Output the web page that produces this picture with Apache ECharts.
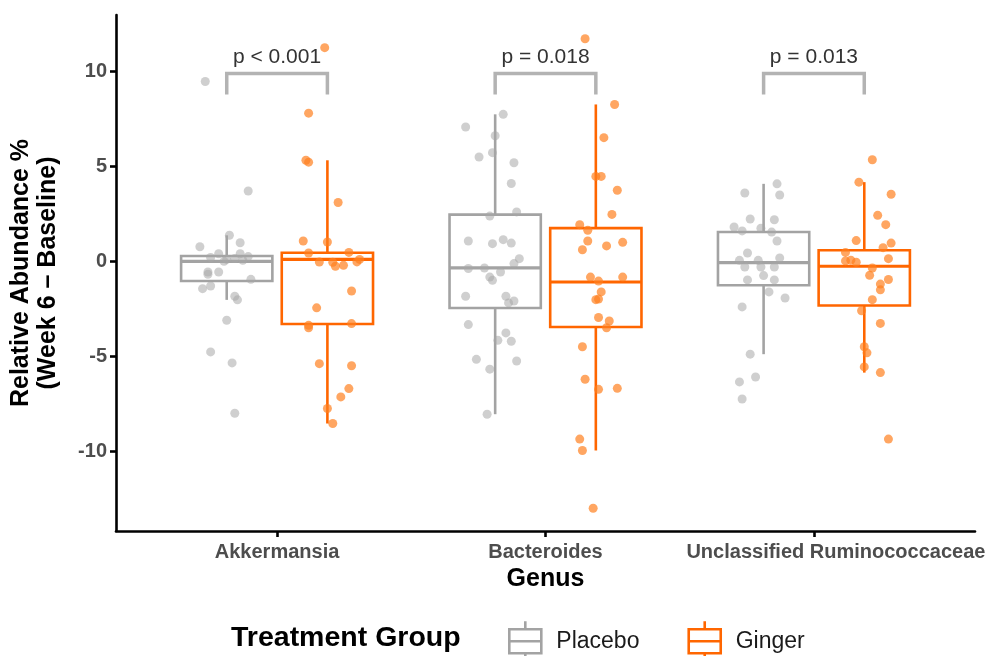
<!DOCTYPE html>
<html>
<head>
<meta charset="utf-8">
<title>Relative abundance change by genus</title>
<script src="https://cdn.jsdelivr.net/npm/echarts@6/dist/echarts.min.js"></script>
<style>
  html, body { margin: 0; padding: 0; background: #fff; }
  #chart { width: 992px; height: 656px; }
</style>
</head>
<body>
<div id="chart"></div>
<script>
const genera = ['Akkermansia', 'Bacteroides', 'Unclassified Ruminococcaceae'];
const groups = ['Placebo', 'Ginger'];
const yTicks = [-10, -5, 0, 5, 10];

// box stats per genus: [lower whisker, Q1, median, Q3, upper whisker]
const placeboBoxes = [
    [-2.03, -1.04, 0.0, 0.28, 1.37],
    [-8.05, -2.46, -0.35, 2.46, 7.74],
    [-4.89, -1.26, -0.07, 1.54, 4.08]
];
const gingerBoxes = [
    [-8.54, -3.3, 0.1, 0.45, 5.32],
    [-9.96, -3.46, -1.09, 1.75, 8.26],
    [-5.86, -2.33, -0.26, 0.58, 4.17]
];

// individual subjects (change in relative abundance, %)
const placeboAkkermansia = [9.47, 3.70, 1.37, 0.98, 0.77, 0.40, 0.40, 0.20, 0.10, 0.15, 0.05, 0.25, 0.00,
    -0.56, -0.56, -0.68, -0.95, -1.44, -1.30, -1.84, -2.03, -3.10, -4.77, -5.35, -8.00];
const placeboAkkermansiaJitter = [-0.08, 0.08, 0.01, 0.05, -0.10, -0.03, 0.05, -0.06, 0.00, 0.03, 0.06, 0.08, -0.01,
    -0.07, -0.03, -0.07, 0.09, -0.09, -0.06, 0.03, 0.04, 0.00, -0.06, 0.02, 0.03];

const gingerAkkermansia = [11.25, 7.80, 5.32, 5.22, 3.10, 1.07, 1.02, 0.44, 0.47, -0.04, -0.05, -0.03, 0.10,
    -0.26, -0.21, -1.56, -2.45, -3.37, -3.50, -3.28, -5.39, -5.50, -6.70, -7.14, -7.75, -8.54];
const gingerAkkermansiaJitter = [-0.01, -0.07, -0.08, -0.07, 0.04, -0.09, 0.00, -0.07, 0.08, -0.03, 0.02, 0.11, 0.12,
    0.03, 0.06, 0.09, -0.04, -0.07, -0.07, 0.09, -0.03, 0.09, 0.08, 0.05, 0.00, 0.02];

const placeboBacteroides = [7.74, 7.07, 6.61, 5.49, 5.72, 5.19, 4.10, 2.60, 2.38, 1.07, 0.93, 1.14, 0.96, 0.14,
    -0.12, -0.38, -0.35, -0.56, -0.83, -1.00, -1.84, -1.84, -2.09, -2.19, -3.33, -3.77, -4.16, -4.21,
    -5.16, -5.25, -5.68, -8.05];
const placeboBacteroidesJitter = [0.03, -0.11, 0.00, -0.06, -0.01, 0.07, 0.06, 0.08, -0.02, -0.10, -0.01, 0.03, 0.06, 0.09,
    0.07, -0.10, -0.04, 0.02, -0.02, -0.01, -0.11, 0.04, 0.07, 0.05, -0.10, 0.04, 0.01, 0.06,
    -0.07, 0.08, -0.02, -0.03];

const gingerBacteroides = [11.72, 8.26, 6.51, 4.47, 4.47, 3.74, 2.47, 1.93, 1.63, 1.07, 0.61, 0.81, 1.00,
    -0.83, -1.04, -0.83, -1.61, -2.02, -1.99, -2.96, -3.14, -3.50, -4.50, -6.21, -6.74, -6.69,
    -9.36, -9.96, -13.0];
const gingerBacteroidesJitter = [-0.04, 0.07, 0.03, 0.00, 0.02, 0.08, 0.06, -0.06, -0.03, -0.03, -0.05, 0.04, 0.10,
    -0.02, 0.01, 0.10, 0.02, 0.00, 0.01, 0.01, 0.05, 0.04, -0.05, -0.04, 0.01, 0.08,
    -0.06, -0.05, -0.01];

const placeboRuminococcaceae = [4.08, 3.60, 3.49, 2.23, 2.19, 1.81, 1.60, 1.74, 1.54, 1.07, 0.44, 0.05, 0.05, 0.18,
    -0.30, -0.30, -0.30, -0.98, -0.75, -0.98, -1.61, -1.93, -2.40, -4.89, -6.09, -6.35, -7.25];
const placeboRuminococcaceaeJitter = [0.05, -0.07, 0.06, -0.05, 0.04, -0.11, -0.08, -0.01, 0.03, 0.05, -0.06, -0.09, -0.02, 0.06,
    -0.07, -0.01, 0.04, -0.06, 0.00, 0.04, 0.02, 0.08, -0.08, -0.05, -0.03, -0.09, -0.08];

const gingerRuminococcaceae = [5.35, 4.17, 3.53, 2.42, 1.93, 1.09, 0.96, 0.72, 0.47, 0.14, 0.02, 0.06, -0.05,
    -0.35, -0.74, -0.96, -1.20, -1.50, -2.02, -2.60, -3.27, -4.50, -4.82, -5.56, -5.86, -9.36];
const gingerRuminococcaceaeJitter = [0.03, -0.02, 0.10, 0.05, 0.08, -0.03, 0.10, 0.07, -0.07, 0.09, -0.07, -0.05, -0.03,
    0.03, 0.02, 0.09, 0.06, 0.06, 0.03, -0.01, 0.06, 0.00, 0.01, 0.00, 0.06, 0.09];

// Wilcoxon results shown above each genus
const pLabels = ['p < 0.001', 'p = 0.018', 'p = 0.013'];
const bracketTop = [9.89, 9.89, 9.89];
const bracketFoot = [8.79, 8.79, 8.79];

// ---- layout / style ----
const FONT = '"Liberation Sans", Arial, sans-serif';
const DODGE = 0.1875;       // half of dodge width 0.75
const BOX_WIDTH = 0.34;
const lineColors = ['#a3a3a3', '#ff6600'];
const pointColors = ['#a8a8a8', '#ff8020'];
const offsets = [-DODGE, DODGE];

const pointSets = [
    [[placeboAkkermansia, placeboAkkermansiaJitter], [placeboBacteroides, placeboBacteroidesJitter], [placeboRuminococcaceae, placeboRuminococcaceaeJitter]],
    [[gingerAkkermansia, gingerAkkermansiaJitter], [gingerBacteroides, gingerBacteroidesJitter], [gingerRuminococcaceae, gingerRuminococcaceaeJitter]]
];
const boxSets = [placeboBoxes, gingerBoxes];

function boxRenderer(color) {
    return function (params, api) {
        const x = api.value(0);
        const lo = api.coord([x, api.value(1)]);
        const q1 = api.coord([x, api.value(2)]);
        const med = api.coord([x, api.value(3)]);
        const q3 = api.coord([x, api.value(4)]);
        const hi = api.coord([x, api.value(5)]);
        const half = api.size([BOX_WIDTH, 0])[0] / 2;
        const style = { stroke: color, lineWidth: 2.6, fill: null };
        return {
            type: 'group',
            children: [
                { type: 'line', shape: { x1: hi[0], y1: hi[1], x2: q3[0], y2: q3[1] }, style: style },
                { type: 'line', shape: { x1: q1[0], y1: q1[1], x2: lo[0], y2: lo[1] }, style: style },
                { type: 'rect', shape: { x: q3[0] - half, y: q3[1], width: half * 2, height: q1[1] - q3[1] }, style: style },
                { type: 'line', shape: { x1: med[0] - half, y1: med[1], x2: med[0] + half, y2: med[1] },
                  style: { stroke: color, lineWidth: 3.2 } }
            ]
        };
    };
}

function bracketRenderer(params, api) {
    const c = api.value(0);
    const l1 = api.coord([c - DODGE, api.value(2)]);
    const l2 = api.coord([c - DODGE, api.value(1)]);
    const r1 = api.coord([c + DODGE, api.value(1)]);
    const r2 = api.coord([c + DODGE, api.value(2)]);
    return {
        type: 'group',
        children: [
            { type: 'polyline', shape: { points: [l1, l2, r1, r2] },
              style: { stroke: '#b3b3b3', lineWidth: 3.5, fill: null } },
            { type: 'text', x: (l2[0] + r1[0]) / 2, y: l2[1] - 6,
              style: { text: pLabels[params.dataIndex], fontSize: 21, fontFamily: FONT, fill: '#333',
                       align: 'center', verticalAlign: 'bottom' } }
        ]
    };
}

const series = [];
groups.forEach(function (g, gi) {
    series.push({
        name: g,
        type: 'custom',
        renderItem: boxRenderer(lineColors[gi]),
        itemStyle: { color: lineColors[gi] },
        encode: { x: 0, y: [1, 2, 3, 4, 5] },
        data: boxSets[gi].map(function (b, ci) { return [ci + 1 + offsets[gi]].concat(b); }),
        z: 2
    });
});
groups.forEach(function (g, gi) {
    const data = [];
    pointSets[gi].forEach(function (set, ci) {
        const vals = set[0], jit = set[1];
        vals.forEach(function (v, k) { data.push([ci + 1 + offsets[gi] + jit[k], v]); });
    });
    series.push({
        name: g,
        type: 'scatter',
        symbolSize: 9,
        itemStyle: { color: pointColors[gi], opacity: gi === 0 ? 0.55 : 0.7 },
        data: data,
        z: 3
    });
});
series.push({
    type: 'custom',
    renderItem: bracketRenderer,
    encode: { x: 0, y: [1, 2] },
    data: genera.map(function (n, i) { return [i + 1, bracketTop[i], bracketFoot[i]]; }),
    z: 4
});

const chart = echarts.init(document.getElementById('chart'));
chart.setOption({
    animation: false,
    backgroundColor: '#fff',
    textStyle: { fontFamily: FONT },
    grid: { left: 116, right: 17, top: 15, bottom: 125 },
    title: {
        text: 'Treatment Group',
        left: 231, top: 623, padding: 0,
        textStyle: { fontSize: 28.5, fontWeight: 'bold', color: '#000', fontFamily: FONT, lineHeight: 30 }
    },
    legend: {
        left: 503, top: 615,
        itemWidth: 36, itemHeight: 40, itemGap: 48,
        icon: 'path://M17,0L17,8M1,8L33,8L33,32L1,32ZM1,20L33,20M17,32L17,40',
        textStyle: { fontSize: 23, color: '#1a1a1a', fontFamily: FONT, padding: [0, 0, 0, 8] },
        data: groups.map(function (g, gi) {
            return { name: g, itemStyle: { color: 'rgba(0,0,0,0)', borderColor: lineColors[gi], borderWidth: 2.6 } };
        })
    },
    xAxis: {
        type: 'value',
        min: 0.4, max: 3.6,
        name: 'Genus',
        nameLocation: 'middle',
        nameGap: 34,
        nameTextStyle: { fontSize: 25, fontWeight: 'bold', color: '#000', fontFamily: FONT },
        splitLine: { show: false },
        axisLine: { show: true, onZero: false, lineStyle: { color: '#000', width: 2.6 } },
        axisTick: { show: true, customValues: [1, 2, 3], length: 6, lineStyle: { color: '#000', width: 2.6 } },
        axisLabel: {
            customValues: [1, 2, 3],
            margin: 11,
            fontSize: 20, fontWeight: 'bold', color: '#4d4d4d', fontFamily: FONT,
            formatter: function (v) {
                const i = Math.round(v) - 1;
                return i === 2 ? '{shift|' + genera[i] + '}' : genera[i];
            },
            rich: { shift: { padding: [0, 0, 0, 44], fontSize: 20, fontWeight: 'bold', color: '#4d4d4d', fontFamily: FONT } }
        }
    },
    yAxis: {
        type: 'value',
        min: -14.2, max: 12.97,
        name: 'Relative Abundance %\n(Week 6 \u2013 Baseline)',
        nameLocation: 'middle',
        nameRotate: 90,
        nameGap: 54,
        nameTextStyle: { fontSize: 25, fontWeight: 'bold', color: '#000', fontFamily: FONT, lineHeight: 27 },
        splitLine: { show: false },
        axisLine: { show: true, onZero: false, lineStyle: { color: '#000', width: 2.6 } },
        axisTick: { show: true, customValues: yTicks, length: 6, lineStyle: { color: '#000', width: 2.6 } },
        axisLabel: {
            customValues: yTicks,
            margin: 9,
            fontSize: 20, fontWeight: 'bold', color: '#4d4d4d', fontFamily: FONT
        }
    },
    series: series
});
</script>
</body>
</html>
